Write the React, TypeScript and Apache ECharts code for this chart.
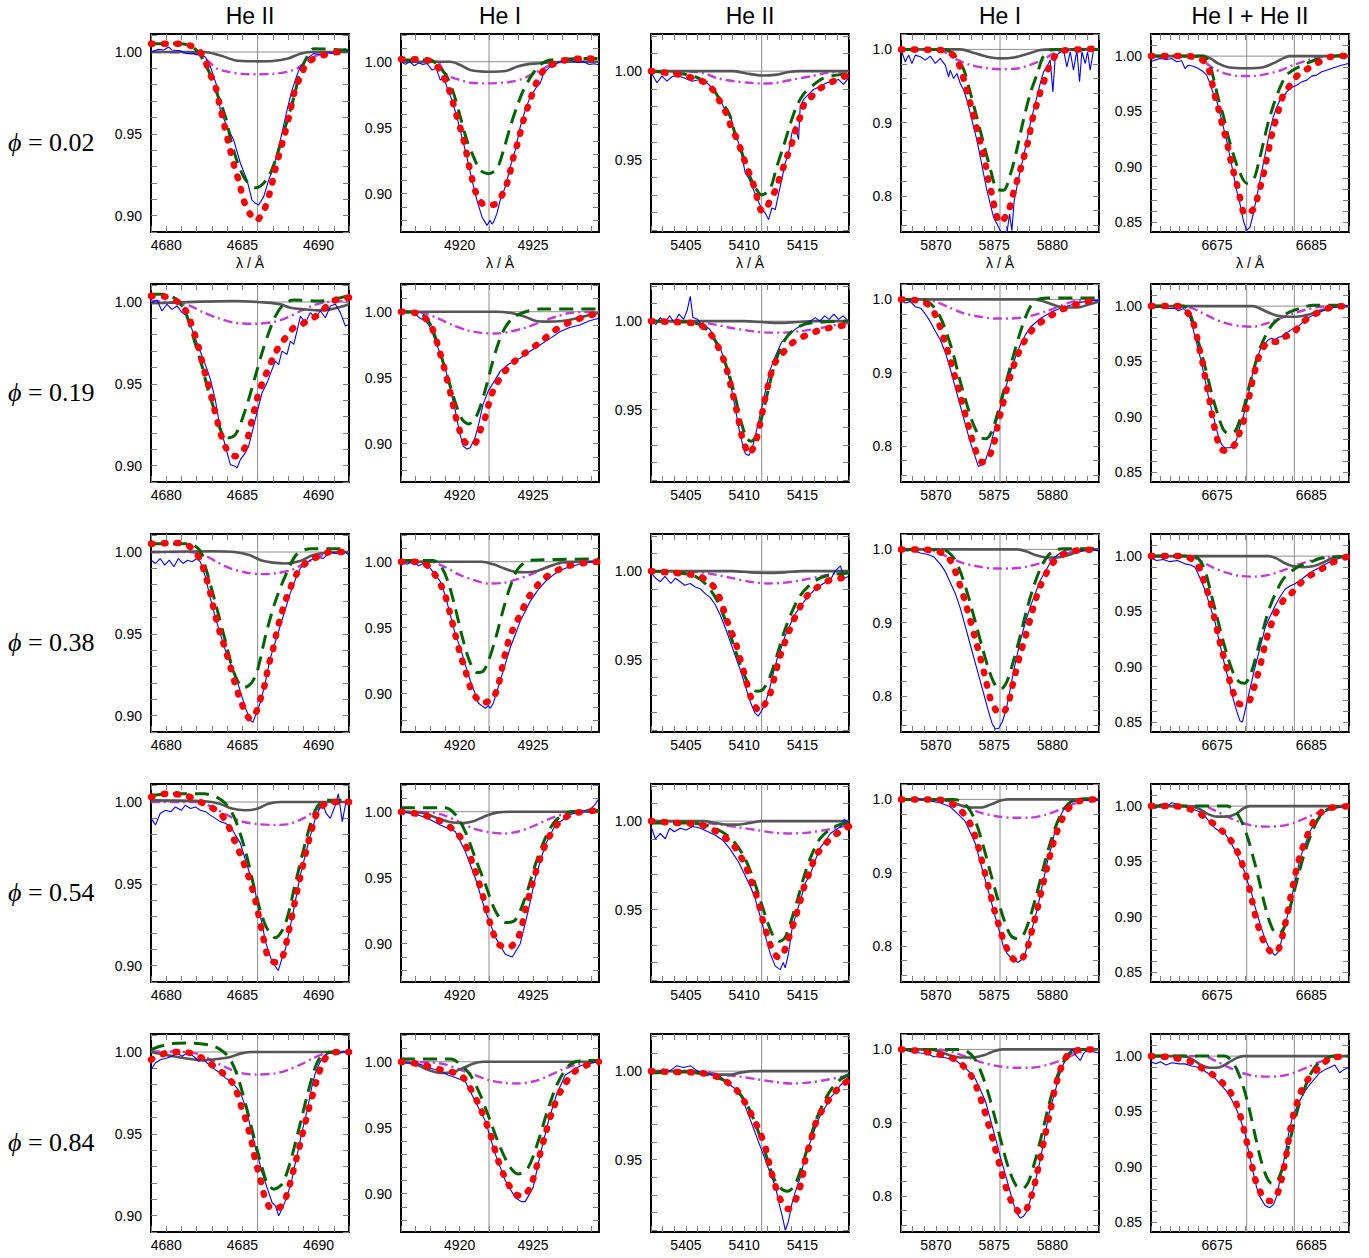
import React, { useEffect, useRef } from 'react';
import * as echarts from 'echarts';

type P = [number, number][];

// ---------- axes ----------
const X_RANGES = [[4679, 4692], [4916, 4929.5], [5402, 5419], [5867, 5884], [6668, 6689]];
const Y_RANGES = [[0.89, 1.011], [0.871, 1.021], [0.909, 1.021], [0.751, 1.021], [0.841, 1.02]];
const X_TICKS = [
  [4679, 4680, 4681, 4682, 4683, 4684, 4685, 4686, 4687, 4688, 4689, 4690, 4691, 4692],
  [4916, 4917, 4918, 4919, 4920, 4921, 4922, 4923, 4924, 4925, 4926, 4927, 4928, 4929],
  [5402, 5403, 5404, 5405, 5406, 5407, 5408, 5409, 5410, 5411, 5412, 5413, 5414, 5415, 5416, 5417, 5418, 5419],
  [5867, 5868, 5869, 5870, 5871, 5872, 5873, 5874, 5875, 5876, 5877, 5878, 5879, 5880, 5881, 5882, 5883, 5884],
  [6668, 6669, 6670, 6671, 6672, 6673, 6674, 6675, 6676, 6677, 6678, 6679, 6680, 6681, 6682, 6683, 6684, 6685, 6686, 6687, 6688, 6689],
];
const X_LABELS = [[4680, 4685, 4690], [4920, 4925], [5405, 5410, 5415], [5870, 5875, 5880], [6675, 6685]];
const Y_TICKS = [
  [0.89, 0.9, 0.91, 0.92, 0.93, 0.94, 0.95, 0.96, 0.97, 0.98, 0.99, 1.0, 1.01],
  [0.88, 0.89, 0.9, 0.91, 0.92, 0.93, 0.94, 0.95, 0.96, 0.97, 0.98, 0.99, 1.0, 1.01, 1.02],
  [0.91, 0.92, 0.93, 0.94, 0.95, 0.96, 0.97, 0.98, 0.99, 1.0, 1.01, 1.02],
  [0.76, 0.78, 0.8, 0.82, 0.84, 0.86, 0.88, 0.9, 0.92, 0.94, 0.96, 0.98, 1.0, 1.02],
  [0.85, 0.86, 0.87, 0.88, 0.89, 0.9, 0.91, 0.92, 0.93, 0.94, 0.95, 0.96, 0.97, 0.98, 0.99, 1.0, 1.01],
];
const Y_LABELS = [[0.9, 0.95, 1.0], [0.9, 0.95, 1.0], [0.95, 1.0], [0.8, 0.9, 1.0], [0.85, 0.9, 0.95, 1.0]];
const Y_DIGITS = [2, 2, 2, 1, 2];
const TITLES = ['He II', 'He I', 'He II', 'He I', 'He I + He II'];
const PHASES = ['0.02', '0.19', '0.38', '0.54', '0.84'];
const REST = [[4686.0], [4922.0], [5411.5], [5875.5], [6678.15, 6683.2]];

// ---------- phase 0.02 ----------
const obs_0_0: P = [[4679,1.0],[4679.5,1.0016],[4679.83,1.0012],[4680.16,1.003],[4680.38,1.0012],[4680.93,1.0008],[4681.36,0.999],[4681.8,0.999],[4682.24,0.998],[4682.57,0.997],[4682.9,0.991],[4683.33,0.979],[4683.55,0.9645],[4683.99,0.9544],[4684.43,0.9462],[4684.87,0.932],[4685.3,0.9218],[4685.63,0.9095],[4685.85,0.9075],[4686.07,0.9065],[4686.4,0.9116],[4686.73,0.9218],[4687.06,0.930],[4687.49,0.946],[4687.93,0.9645],[4688.26,0.9768],[4688.59,0.986],[4688.8,0.991],[4689.24,0.996],[4689.68,0.999],[4690.12,0.9985],[4690.56,0.9995],[4691.0,0.999],[4691.43,1.001],[4691.76,1.002],[4692,1.0]];
const fit_0_0: P = [[4679,1.005],[4680,1.005],[4681,1.005],[4682,1.002],[4682.5,0.996],[4682.8,0.988],[4683.2,0.98],[4683.5,0.968],[4683.8,0.956],[4684.2,0.94],[4684.5,0.929],[4684.8,0.92],[4685.1,0.909],[4685.5,0.901],[4685.9,0.897],[4686.4,0.903],[4686.8,0.914],[4687.1,0.926],[4687.4,0.937],[4687.7,0.947],[4688.1,0.962],[4688.4,0.975],[4688.8,0.985],[4689.1,0.991],[4689.5,0.995],[4690.3,0.998],[4691.4,1.0],[4692,1.0]];
const pri_0_0: P = [[4679,1.005],[4681,1.005],[4682,1.001],[4682.8,0.988],[4683.4,0.973],[4683.9,0.96],[4684.3,0.944],[4684.7,0.932],[4685.2,0.922],[4685.9,0.917],[4686.6,0.922],[4687.1,0.932],[4687.5,0.944],[4688,0.96],[4688.4,0.973],[4688.8,0.988],[4689.3,0.998],[4689.7,1.002],[4692,1.001]];
const sec_0_0: P = [[4679,1.0],[4681.5,0.9995],[4682.2,0.998],[4682.8,0.994],[4683.3,0.99],[4684,0.988],[4685,0.9866],[4686,0.9864],[4687,0.9866],[4688,0.988],[4688.6,0.99],[4689.2,0.994],[4689.7,0.997],[4690.3,0.999],[4692,1.0]];
const ter_0_0: P = [[4679,1.0],[4682.5,1.0],[4683.5,0.998],[4684.5,0.995],[4685,0.9945],[4686,0.9943],[4687,0.9945],[4688,0.996],[4688.8,0.999],[4689.5,1.0],[4692,1.0]];

const obs_0_1: P = [[4916,1.0],[4916.3,0.998],[4916.6,1.0],[4916.9,0.997],[4917.2,0.999],[4917.5,0.998],[4917.77,0.9987],[4918.11,0.9937],[4918.4,0.995],[4918.68,0.9861],[4918.9,0.988],[4919.13,0.981],[4919.47,0.9709],[4919.81,0.9583],[4920.15,0.9431],[4920.49,0.9279],[4920.84,0.9102],[4921.18,0.895],[4921.52,0.8824],[4921.86,0.876],[4922.08,0.8798],[4922.2,0.877],[4922.31,0.8786],[4922.54,0.8849],[4922.76,0.895],[4923.11,0.9051],[4923.45,0.9203],[4923.79,0.933],[4924.13,0.9507],[4924.47,0.9633],[4924.81,0.9734],[4925.26,0.981],[4925.5,0.984],[4925.72,0.9911],[4926.17,0.9962],[4926.85,1.0],[4927.53,1.0013],[4928,0.9995],[4928.44,1.0],[4928.8,0.998],[4929.2,0.9985],[4929.5,0.9975]];
const fit_0_1: P = [[4916,1.0018],[4917,1.0018],[4918,1.0005],[4918.57,0.9949],[4919.02,0.9861],[4919.36,0.976],[4919.81,0.9583],[4920.15,0.9456],[4920.38,0.9355],[4920.61,0.9228],[4920.84,0.9114],[4921.18,0.8988],[4921.74,0.8912],[4922.49,0.8925],[4922.99,0.9013],[4923.33,0.9114],[4923.67,0.9279],[4924.01,0.9405],[4924.35,0.9557],[4924.81,0.9709],[4925.26,0.9848],[4925.83,0.9949],[4926.51,0.9987],[4927.3,1.0013],[4928.67,1.0025],[4929.5,1.0018]];
const pri_0_1: P = [[4916,1.0013],[4918,1.0013],[4918.5,0.9975],[4919.13,0.9886],[4919.59,0.976],[4920.04,0.9583],[4920.49,0.9405],[4920.95,0.9279],[4921.4,0.9178],[4921.97,0.9152],[4922.54,0.919],[4922.99,0.933],[4923.45,0.9507],[4923.9,0.9658],[4924.35,0.9785],[4924.92,0.9899],[4925.49,0.9975],[4926.17,1.0013],[4929.5,1.0025]];
const sec_0_1: P = [[4916,1.0],[4918.5,0.9995],[4918.91,0.9924],[4919.36,0.9886],[4920.04,0.9861],[4920.72,0.9841],[4922,0.9836],[4923.5,0.9848],[4924.35,0.9873],[4925.03,0.9911],[4925.72,0.9949],[4926.4,0.9987],[4927,1.0],[4929.5,1.0]];
const ter_0_1: P = [[4916,1.0],[4919.36,1.0],[4920.04,0.9975],[4920.72,0.9937],[4921.97,0.9924],[4923.22,0.9932],[4923.9,0.9962],[4924.58,0.998],[4925.26,0.9987],[4926.17,0.9995],[4927.3,1.0],[4929.5,1.0]];

const obs_0_2: P = [[5402,0.9994],[5402.51,0.9934],[5402.94,0.9972],[5403.37,0.9943],[5403.8,0.9968],[5404.23,0.9975],[5404.8,0.9962],[5405.52,0.9943],[5406.23,0.9953],[5406.8,0.9934],[5407.38,0.9896],[5407.95,0.984],[5408.38,0.9774],[5408.81,0.9755],[5409.09,0.967],[5409.52,0.9594],[5409.81,0.9519],[5410.09,0.9424],[5410.38,0.9396],[5410.67,0.9349],[5411.09,0.9283],[5411.52,0.9217],[5411.81,0.9198],[5412.1,0.916],[5412.38,0.9226],[5412.67,0.9217],[5413.1,0.9349],[5413.53,0.9481],[5413.81,0.9538],[5414.1,0.9651],[5414.38,0.9689],[5414.67,0.9613],[5414.81,0.9802],[5415.1,0.984],[5415.53,0.9868],[5415.96,0.9896],[5416.53,0.9915],[5417.1,0.9934],[5417.67,0.9943],[5418.1,0.9953],[5418.53,0.9925],[5418.96,0.9962]];
const fit_0_2: P = [[5402,1.0],[5403.7,0.9987],[5404.8,0.9975],[5405.7,0.9957],[5406.7,0.9934],[5407.4,0.9887],[5407.9,0.983],[5408.5,0.9755],[5408.9,0.968],[5409.4,0.9613],[5409.8,0.9538],[5410.2,0.9462],[5410.7,0.9377],[5411.0,0.9311],[5411.4,0.9217],[5411.7,0.9207],[5412.2,0.9264],[5412.7,0.933],[5413.1,0.9406],[5413.5,0.9481],[5413.8,0.9538],[5414.2,0.9613],[5414.5,0.9689],[5414.9,0.9755],[5415.2,0.9821],[5415.7,0.9849],[5416.2,0.9887],[5417.1,0.9925],[5418.0,0.9953],[5419,0.998]];
const pri_0_2: P = [[5402,1.0],[5403.5,0.9991],[5404.5,0.9987],[5405.4,0.9975],[5406.2,0.9957],[5407.1,0.992],[5407.9,0.984],[5408.7,0.976],[5409.2,0.965],[5409.8,0.954],[5410.4,0.942],[5410.8,0.936],[5411.5,0.93],[5412.2,0.933],[5412.8,0.946],[5413.4,0.958],[5414.0,0.971],[5414.5,0.98],[5415.1,0.987],[5416.0,0.9925],[5416.8,0.996],[5417.7,0.9975],[5419,0.9987]];
const sec_0_2: P = [[5402,1.0],[5406.2,0.9994],[5407.7,0.996],[5409.1,0.9943],[5410.5,0.9934],[5411.5,0.993],[5412.8,0.9934],[5414.2,0.9953],[5415.7,0.997],[5417.1,0.999],[5419,1.0]];
const ter_0_2: P = [[5402,1.0],[5409,1.0],[5410.2,0.9987],[5411.5,0.9975],[5412.8,0.998],[5413.7,0.9994],[5414.8,1.0],[5419,1.0]];

const obs_0_3: P = [[5867,1.0],[5867.37,0.9831],[5867.66,0.9922],[5867.94,0.9808],[5868.23,0.9922],[5868.66,0.99],[5869.09,0.9854],[5869.52,0.9909],[5869.95,0.9808],[5870.37,0.9877],[5870.8,0.9786],[5871.09,0.9626],[5871.23,0.9717],[5871.52,0.9603],[5871.8,0.9672],[5872.09,0.9535],[5872.38,0.9444],[5872.66,0.9307],[5872.95,0.9124],[5873.23,0.8942],[5873.52,0.876],[5873.81,0.8532],[5874.09,0.8304],[5874.38,0.8076],[5874.66,0.7893],[5874.95,0.7711],[5875.24,0.762],[5875.52,0.7529],[5875.81,0.749],[5876.09,0.749],[5876.32,0.7756],[5876.52,0.7529],[5876.72,0.7939],[5876.95,0.8121],[5877.24,0.8349],[5877.52,0.8532],[5877.81,0.876],[5878.1,0.8988],[5878.38,0.917],[5878.67,0.9352],[5878.95,0.9535],[5879.24,0.9694],[5879.53,0.9763],[5879.81,0.9854],[5880.04,0.9421],[5880.24,0.99],[5880.53,0.9945],[5880.96,0.9991],[5881.24,0.9763],[5881.53,0.9968],[5881.81,0.9717],[5882.1,0.9991],[5882.33,0.9558],[5882.53,0.9968],[5882.82,0.9808],[5883.02,0.9968],[5883.24,0.9717],[5883.53,0.9991],[5883.96,1.0]];
const fit_0_3: P = [[5867,1.0],[5870.4,0.9991],[5871.2,0.9954],[5871.8,0.9863],[5872.2,0.969],[5872.5,0.953],[5872.8,0.9353],[5873.1,0.917],[5873.4,0.899],[5873.7,0.88],[5874.0,0.862],[5874.3,0.84],[5874.5,0.822],[5874.8,0.803],[5875.1,0.78],[5875.5,0.764],[5876.2,0.778],[5876.5,0.796],[5876.8,0.812],[5877.1,0.828],[5877.4,0.844],[5877.7,0.862],[5878.0,0.88],[5878.2,0.899],[5878.5,0.917],[5878.8,0.933],[5879.1,0.949],[5879.4,0.962],[5879.7,0.976],[5880.0,0.985],[5880.4,0.9945],[5881.2,0.9991],[5882.6,1.0],[5884,1.0014]];
const pri_0_3: P = [[5867,1.0],[5870.7,1.0],[5871.2,0.997],[5871.8,0.988],[5872.4,0.972],[5872.9,0.944],[5873.5,0.908],[5874.1,0.871],[5874.7,0.835],[5875.2,0.81],[5875.8,0.808],[5876.4,0.83],[5877.0,0.867],[5877.5,0.903],[5878.1,0.94],[5878.7,0.967],[5879.2,0.99],[5879.8,0.999],[5880.5,1.0],[5884,1.0]];
const sec_0_3: P = [[5867,1.0],[5870,1.0],[5870.7,0.997],[5871.8,0.986],[5872.9,0.979],[5874.1,0.975],[5875.5,0.973],[5877.0,0.974],[5878.1,0.979],[5879.2,0.986],[5880.1,0.9945],[5881.2,0.9991],[5882,1.0],[5884,1.0]];
const ter_0_3: P = [[5867,1.0],[5872.1,1.0],[5873.2,0.9955],[5874.4,0.99],[5875.5,0.9877],[5876.7,0.989],[5877.8,0.9936],[5879.0,0.9991],[5880,1.0],[5884,1.0]];

const obs_0_4: P = [[6668,0.9949],[6668.42,0.9964],[6668.95,0.9979],[6669.66,0.997],[6670.19,0.9979],[6670.72,0.9949],[6671.25,0.9958],[6671.61,0.9888],[6671.96,0.9918],[6672.49,0.9909],[6673.02,0.9888],[6673.55,0.9858],[6673.9,0.9828],[6674.26,0.9752],[6674.61,0.9662],[6674.96,0.9601],[6675.32,0.9481],[6675.67,0.936],[6676.02,0.9239],[6676.38,0.9088],[6676.73,0.8937],[6677.08,0.8786],[6677.44,0.8665],[6677.79,0.8514],[6678.15,0.8424],[6678.5,0.8454],[6678.85,0.8575],[6679.21,0.8726],[6679.56,0.8877],[6679.91,0.9028],[6680.27,0.9179],[6680.62,0.933],[6680.97,0.945],[6681.33,0.9541],[6681.68,0.9601],[6682.03,0.9632],[6682.39,0.9677],[6682.92,0.9716],[6683.45,0.9737],[6683.98,0.9767],[6684.51,0.9783],[6685.04,0.9819],[6685.57,0.9828],[6686.1,0.9858],[6686.63,0.9873],[6687.16,0.9888],[6687.69,0.9903],[6688.22,0.9918],[6688.93,0.9934]];
const fit_0_4: P = [[6668,1.0],[6671.8,1.0],[6672.5,0.9994],[6673.2,0.998],[6673.8,0.9934],[6674.2,0.986],[6674.6,0.971],[6674.9,0.96],[6675.3,0.948],[6675.6,0.936],[6676.0,0.924],[6676.3,0.912],[6676.6,0.9],[6677.0,0.888],[6677.3,0.877],[6678.0,0.857],[6678.9,0.862],[6679.4,0.876],[6679.8,0.888],[6680.1,0.9],[6680.4,0.912],[6680.7,0.924],[6681.0,0.936],[6681.4,0.946],[6681.7,0.957],[6682.1,0.966],[6682.6,0.972],[6683.1,0.978],[6683.6,0.983],[6684.1,0.986],[6684.9,0.99],[6685.9,0.995],[6686.8,0.9988],[6687.9,1.0003],[6689,1.0]];
const pri_0_4: P = [[6668,1.0],[6673.5,1.0],[6674.1,0.995],[6674.6,0.981],[6675.1,0.963],[6675.7,0.945],[6676.2,0.927],[6676.7,0.912],[6677.4,0.895],[6678.15,0.885],[6678.9,0.889],[6679.4,0.903],[6679.9,0.921],[6680.4,0.939],[6681.0,0.956],[6681.7,0.972],[6682.4,0.983],[6683.4,0.989],[6684.5,0.9934],[6685.6,0.997],[6687.3,1.0],[6689,1.0009]];
const sec_0_4: P = [[6668,1.0],[6672.5,1.0],[6673.5,0.996],[6674.6,0.989],[6676.0,0.984],[6677.4,0.982],[6678.9,0.982],[6680.3,0.984],[6681.7,0.987],[6683.1,0.992],[6684.5,0.996],[6685.9,0.999],[6687.3,1.0],[6689,1.0]];
const ter_0_4: P = [[6668,1.0],[6673.5,1.0],[6674.3,0.998],[6675.1,0.9934],[6676.2,0.99],[6678.15,0.989],[6679.9,0.99],[6681.0,0.9937],[6682.0,0.998],[6682.7,1.0],[6689,1.0]];

// ---------- phase 0.19 ----------
const obs_1_0: P = [[4679,0.9996],[4679.39,1.0012],[4679.72,0.9945],[4680.05,0.9986],[4680.38,0.9955],[4680.71,0.9976],[4681.04,0.9935],[4681.36,0.9914],[4681.69,0.9833],[4682.02,0.9751],[4682.35,0.967],[4682.68,0.9588],[4682.9,0.9527],[4683.22,0.9404],[4683.44,0.9282],[4683.66,0.92],[4683.88,0.9119],[4684.21,0.9006],[4684.54,0.8996],[4684.65,0.8986],[4684.87,0.9037],[4685.19,0.9078],[4685.41,0.9119],[4685.63,0.92],[4685.85,0.9282],[4686.07,0.9364],[4686.29,0.9445],[4686.62,0.9506],[4686.95,0.9588],[4687.17,0.9639],[4687.38,0.9618],[4687.6,0.97],[4687.93,0.968],[4688.15,0.9761],[4688.37,0.9741],[4688.59,0.9823],[4688.81,0.9914],[4689.14,0.9874],[4689.46,0.9935],[4689.79,0.9904],[4690.12,0.9945],[4690.45,0.9904],[4690.78,0.9976],[4691.11,0.9986],[4691.43,0.9935],[4691.76,0.9853],[4692,0.9863]];
const fit_1_0: P = [[4679,1.0037],[4679.94,1.0033],[4680.82,0.9996],[4681.36,0.9935],[4681.69,0.9853],[4681.91,0.9792],[4682.13,0.972],[4682.35,0.9639],[4682.57,0.9557],[4682.79,0.9486],[4683.01,0.9404],[4683.22,0.9323],[4683.44,0.9241],[4683.66,0.917],[4683.99,0.9098],[4684.54,0.9057],[4685.09,0.9098],[4685.41,0.919],[4685.63,0.9282],[4685.85,0.9364],[4686.07,0.9445],[4686.4,0.9527],[4686.73,0.9598],[4687.06,0.967],[4687.49,0.9741],[4687.93,0.9792],[4688.37,0.9843],[4688.81,0.9857],[4689.24,0.9884],[4689.68,0.9904],[4690.12,0.9935],[4690.56,0.9976],[4691.21,1.0016],[4692,1.0027]];
const pri_1_0: P = [[4679,1.0047],[4679.83,1.0047],[4680.49,1.0027],[4681.04,0.9976],[4681.36,0.9914],[4681.69,0.9812],[4682.02,0.971],[4682.35,0.9608],[4682.68,0.9486],[4683.01,0.9384],[4683.33,0.9282],[4683.66,0.92],[4684.1,0.917],[4684.54,0.919],[4684.98,0.9282],[4685.41,0.9404],[4685.85,0.9547],[4686.29,0.969],[4686.73,0.9812],[4687.17,0.9914],[4687.71,0.9986],[4688.37,1.0012],[4689.9,1.0006],[4691.0,1.0016],[4692,1.0041]];
const sec_1_0: P = [[4679,1.0006],[4680.71,0.9996],[4681.58,0.9976],[4682.46,0.9935],[4683.33,0.9904],[4684.43,0.9874],[4685.74,0.9867],[4687.06,0.9878],[4687.93,0.9904],[4688.81,0.9945],[4689.68,0.998],[4690.56,1.0],[4692,1.0006]];
const ter_1_0: P = [[4679,0.9992],[4680.49,0.9996],[4682.24,1.0002],[4684.43,1.0006],[4686.62,0.9996],[4687.49,0.9986],[4688.15,0.9965],[4689.03,0.9955],[4689.9,0.9949],[4690.78,0.9955],[4691.43,0.9969],[4692,0.9986]];

const obs_1_1: P = [[4916,1.002],[4916.4,0.999],[4916.8,1.0],[4917.3,0.995],[4917.7,0.993],[4918.0,0.988],[4918.34,0.978],[4918.68,0.968],[4919.0,0.958],[4919.36,0.942],[4919.7,0.925],[4920.0,0.908],[4920.25,0.898],[4920.5,0.896],[4920.72,0.897],[4921.06,0.905],[4921.3,0.915],[4921.6,0.93],[4921.95,0.94],[4922.4,0.948],[4922.77,0.955],[4923.3,0.96],[4924.13,0.965],[4924.8,0.97],[4925.5,0.975],[4926.2,0.98],[4926.86,0.985],[4927.5,0.988],[4928.2,0.99],[4928.8,0.993],[4929.5,0.995]];
const fit_1_1: P = [[4916,1.0],[4917,0.999],[4917.66,0.995],[4918.1,0.988],[4918.5,0.975],[4919.0,0.955],[4919.4,0.937],[4919.7,0.922],[4920.0,0.91],[4920.3,0.902],[4920.72,0.899],[4921.1,0.901],[4921.4,0.91],[4921.8,0.922],[4922.1,0.935],[4922.5,0.945],[4923.1,0.955],[4923.7,0.962],[4924.5,0.969],[4925.5,0.977],[4926.5,0.986],[4927.5,0.992],[4928.5,0.996],[4929.5,0.999]];
const pri_1_1: P = [[4916,1.0],[4917,0.9995],[4917.66,0.996],[4918.1,0.988],[4918.5,0.975],[4919.0,0.957],[4919.4,0.942],[4919.8,0.928],[4920.2,0.918],[4920.6,0.915],[4921.0,0.918],[4921.4,0.928],[4921.8,0.943],[4922.2,0.96],[4922.6,0.975],[4923.1,0.988],[4923.7,0.996],[4924.5,1.0],[4925.5,1.002],[4929.5,1.002]];
const sec_1_1: P = [[4916,1.0],[4917.5,0.999],[4918.5,0.995],[4919.5,0.99],[4920.5,0.986],[4921.5,0.984],[4922.5,0.9835],[4923.5,0.985],[4924.5,0.988],[4925.5,0.992],[4926.5,0.996],[4927.5,0.999],[4929.5,1.0]];
const ter_1_1: P = [[4916,1.0],[4922.5,1.0],[4923.5,0.999],[4924.5,0.996],[4925.2,0.993],[4926,0.9925],[4927,0.993],[4928,0.995],[4929,0.998],[4929.5,0.999]];

const obs_1_2: P = [[5402,1.001],[5402.4,0.998],[5402.8,1.002],[5403.2,0.999],[5403.6,1.003],[5404.0,0.999],[5404.4,1.004],[5404.8,1.001],[5405.1,1.006],[5405.37,1.014],[5405.6,1.002],[5406.0,1.001],[5406.23,0.999],[5406.6,0.998],[5407.09,0.995],[5407.5,0.99],[5407.95,0.985],[5408.4,0.975],[5408.81,0.965],[5409.2,0.952],[5409.67,0.935],[5410.1,0.925],[5410.4,0.924],[5410.7,0.928],[5410.95,0.935],[5411.4,0.948],[5411.81,0.96],[5412.2,0.972],[5412.67,0.98],[5413.2,0.988],[5413.96,0.993],[5414.5,0.996],[5415.0,0.998],[5415.68,1.0],[5416.1,1.002],[5416.5,1.0],[5416.9,1.003],[5417.3,1.001],[5417.7,1.004],[5418.1,1.001],[5418.5,1.003],[5418.94,1.0]];
const fit_1_2: P = [[5402,1.0],[5404,0.9995],[5405.5,0.999],[5406.23,0.998],[5407.09,0.993],[5407.8,0.985],[5408.4,0.975],[5408.9,0.962],[5409.4,0.948],[5409.8,0.935],[5410.2,0.927],[5410.4,0.925],[5410.9,0.93],[5411.3,0.94],[5411.7,0.953],[5412.1,0.965],[5412.6,0.976],[5413.2,0.981],[5414.0,0.987],[5415.0,0.991],[5416.1,0.994],[5417.2,0.996],[5418.0,0.997],[5419,0.998]];
const pri_1_2: P = [[5402,1.0],[5405,0.9995],[5406.2,0.998],[5407.1,0.993],[5407.9,0.984],[5408.6,0.972],[5409.2,0.958],[5409.7,0.944],[5410.2,0.934],[5410.6,0.932],[5411.1,0.936],[5411.6,0.948],[5412.1,0.962],[5412.6,0.975],[5413.2,0.986],[5413.9,0.993],[5414.7,0.997],[5415.7,0.999],[5419,1.0]];
const sec_1_2: P = [[5402,1.0],[5406,0.9995],[5407.5,0.998],[5409,0.996],[5410.5,0.9945],[5412,0.9935],[5413.5,0.9935],[5415,0.9945],[5416.5,0.996],[5418,0.998],[5419,0.999]];
const ter_1_2: P = [[5402,1.0],[5410,1.0],[5411.5,0.9995],[5413,0.999],[5414.5,0.9995],[5416,1.0],[5419,1.0]];

const obs_1_3: P = [[5867,1.0],[5867.37,0.995],[5867.8,0.997],[5868.23,0.99],[5868.7,0.988],[5869.09,0.98],[5869.5,0.97],[5869.9,0.958],[5870.37,0.945],[5870.8,0.928],[5871.23,0.905],[5871.66,0.88],[5872.09,0.855],[5872.52,0.83],[5872.95,0.805],[5873.38,0.785],[5873.64,0.772],[5873.98,0.775],[5874.24,0.78],[5874.67,0.8],[5875.1,0.828],[5875.52,0.852],[5875.95,0.878],[5876.38,0.9],[5876.8,0.92],[5877.24,0.938],[5877.7,0.952],[5878.1,0.962],[5878.96,0.974],[5879.82,0.982],[5880.67,0.988],[5881.53,0.992],[5882.39,0.996],[5883.2,0.998],[5884,0.999]];
const fit_1_3: P = [[5867,1.0],[5868.2,0.999],[5869.0,0.996],[5869.52,0.99],[5870.0,0.977],[5870.37,0.962],[5870.8,0.94],[5871.23,0.918],[5871.66,0.893],[5872.09,0.868],[5872.52,0.843],[5872.78,0.828],[5873.38,0.795],[5873.98,0.778],[5874.6,0.787],[5875.0,0.805],[5875.27,0.826],[5875.6,0.848],[5875.95,0.87],[5876.38,0.895],[5876.8,0.915],[5877.41,0.938],[5878.1,0.955],[5878.53,0.963],[5879.3,0.972],[5880.2,0.981],[5881.1,0.988],[5882.0,0.993],[5883,0.997],[5884,0.999]];
const pri_1_3: P = [[5867,1.0],[5868.5,1.0],[5869.3,0.997],[5869.8,0.99],[5870.4,0.975],[5870.9,0.955],[5871.5,0.925],[5872.0,0.893],[5872.6,0.86],[5873.2,0.83],[5873.8,0.812],[5874.3,0.81],[5874.8,0.82],[5875.3,0.845],[5875.9,0.88],[5876.5,0.915],[5877.1,0.948],[5877.6,0.972],[5878.1,0.99],[5878.6,0.999],[5879.5,1.002],[5884,1.002]];
const sec_1_3: P = [[5867,1.0],[5869,1.0],[5870,0.997],[5871,0.99],[5872.2,0.982],[5873.5,0.977],[5875,0.974],[5876.5,0.974],[5878,0.977],[5879.5,0.984],[5880.8,0.992],[5882,0.998],[5884,1.0]];
const ter_1_3: P = [[5867,1.0],[5878.5,1.0],[5879.3,0.997],[5880.2,0.992],[5881.2,0.989],[5882.2,0.989],[5883.1,0.993],[5884,0.997]];

const obs_1_4: P = [[6668,0.9979],[6668.95,0.9994],[6669.66,0.9979],[6670.55,0.9979],[6670.9,0.9958],[6671.43,0.9979],[6671.96,0.9934],[6672.31,0.9844],[6672.67,0.9724],[6673.02,0.9604],[6673.37,0.9484],[6673.73,0.9334],[6674.08,0.9184],[6674.43,0.9064],[6674.79,0.8944],[6675.14,0.8824],[6675.49,0.8749],[6675.85,0.8719],[6676.38,0.8719],[6676.73,0.8734],[6677.08,0.8794],[6677.44,0.8914],[6677.79,0.9004],[6678.15,0.9124],[6678.5,0.9274],[6678.85,0.9424],[6679.21,0.9514],[6679.56,0.9604],[6680.09,0.9664],[6680.44,0.9694],[6680.8,0.9709],[6681.15,0.9694],[6681.5,0.9718],[6681.86,0.9724],[6682.21,0.9754],[6682.56,0.9769],[6683.09,0.9799],[6683.62,0.9814],[6684.15,0.9859],[6684.86,0.9904],[6685.57,0.9934],[6686.28,0.9958],[6686.98,0.9979],[6687.69,0.9994],[6688.4,1.0009],[6688.93,1.0]];
const fit_1_4: P = [[6668,1.0],[6669.48,1.0],[6670.9,1.0],[6671.78,0.9949],[6672.21,0.9904],[6672.56,0.9829],[6672.91,0.9709],[6673.2,0.9589],[6673.48,0.9484],[6673.76,0.9349],[6674.01,0.9244],[6674.26,0.9124],[6674.5,0.9004],[6674.79,0.8884],[6675.14,0.8764],[6675.49,0.8704],[6676.02,0.8689],[6677.01,0.8764],[6677.44,0.8869],[6677.86,0.8974],[6678.15,0.9094],[6678.5,0.9214],[6678.85,0.9364],[6679.21,0.9469],[6679.56,0.9574],[6680.27,0.9664],[6680.97,0.9679],[6681.68,0.9679],[6682.21,0.9724],[6682.92,0.9739],[6683.8,0.9829],[6684.86,0.9904],[6685.92,0.9949],[6687.34,0.9994],[6689,1.0]];
const pri_1_4: P = [[6668,1.0],[6671.43,1.0],[6671.96,0.9964],[6672.49,0.9844],[6673.02,0.9679],[6673.55,0.9514],[6674.08,0.9334],[6674.61,0.9154],[6675.14,0.9004],[6675.67,0.8884],[6676.2,0.8848],[6676.91,0.8869],[6677.44,0.8974],[6677.97,0.9124],[6678.5,0.9304],[6679.03,0.9469],[6679.56,0.9619],[6680.27,0.9754],[6680.97,0.9844],[6681.86,0.9904],[6682.74,0.9949],[6683.8,0.9979],[6685.22,1.0009],[6689,1.0009]];
const sec_1_4: P = [[6668,1.0],[6671.78,0.9994],[6673.2,0.9949],[6674.61,0.9889],[6676.02,0.9844],[6677.44,0.982],[6678.85,0.9814],[6680.27,0.9844],[6681.68,0.9889],[6683.09,0.9934],[6684.51,0.997],[6685.92,0.9994],[6689,1.0]];
const ter_1_4: P = [[6668,1.0],[6678.85,1.0],[6679.56,0.9979],[6680.27,0.9949],[6680.97,0.9925],[6681.68,0.991],[6682.39,0.9904],[6683.45,0.9904],[6684.51,0.9919],[6685.57,0.9949],[6686.63,0.9979],[6687.34,0.9994],[6689,1.0]];

// ---------- phase 0.38 ----------
const obs_2_0: P = [[4679,0.995],[4679.3,0.993],[4679.6,0.996],[4679.9,0.992],[4680.2,0.995],[4680.5,0.991],[4680.8,0.996],[4681.1,0.993],[4681.4,0.995],[4681.7,0.994],[4682.0,0.996],[4682.24,0.994],[4682.57,0.985],[4682.89,0.972],[4683.22,0.96],[4683.55,0.95],[4683.88,0.94],[4684.21,0.932],[4684.53,0.925],[4684.86,0.915],[4685.19,0.905],[4685.52,0.897],[4685.7,0.896],[4685.85,0.9],[4686.18,0.908],[4686.5,0.92],[4686.83,0.935],[4687.16,0.945],[4687.49,0.955],[4687.82,0.965],[4688.15,0.975],[4688.47,0.983],[4688.8,0.99],[4689.1,0.993],[4689.46,0.995],[4689.9,0.997],[4690.3,0.996],[4690.77,1.0],[4691.2,0.999],[4691.6,1.001],[4692,0.998]];
const fit_2_0: P = [[4679,1.005],[4680.5,1.0055],[4681.25,1.005],[4681.9,1.0],[4682.24,0.995],[4682.6,0.985],[4682.89,0.975],[4683.2,0.962],[4683.55,0.95],[4683.9,0.94],[4684.21,0.93],[4684.6,0.917],[4684.86,0.91],[4685.2,0.902],[4685.52,0.898],[4685.85,0.901],[4686.18,0.91],[4686.5,0.92],[4686.7,0.93],[4687.0,0.94],[4687.23,0.95],[4687.5,0.96],[4687.82,0.97],[4688.15,0.978],[4688.47,0.985],[4688.9,0.991],[4689.46,0.995],[4690.2,0.998],[4690.77,1.0],[4692,1.0]];
const pri_2_0: P = [[4679,1.005],[4681.5,1.005],[4682.2,1.001],[4682.6,0.99],[4683.2,0.97],[4683.9,0.945],[4684.5,0.925],[4685.1,0.917],[4685.6,0.92],[4686.0,0.928],[4686.5,0.948],[4687.1,0.968],[4687.8,0.985],[4688.6,0.999],[4689.5,1.002],[4692,1.002]];
const sec_2_0: P = [[4679,1.0],[4681.5,1.0],[4682.5,0.998],[4683.3,0.994],[4684.2,0.99],[4685.2,0.9875],[4686.2,0.9865],[4687.2,0.987],[4688.2,0.989],[4689.1,0.993],[4690,0.997],[4690.8,0.9995],[4692,1.0]];
const ter_2_0: P = [[4679,1.0],[4683,1.0005],[4684.5,1.0],[4685.5,0.998],[4686.2,0.995],[4687,0.9935],[4687.8,0.993],[4688.8,0.9945],[4689.6,0.998],[4690.5,0.9995],[4692,1.0]];

const obs_2_1: P = [[4916,1.0],[4916.4,0.998],[4916.8,1.0],[4917.2,0.997],[4917.6,0.999],[4918.0,0.995],[4918.34,0.99],[4918.68,0.985],[4919.0,0.975],[4919.36,0.96],[4919.7,0.945],[4920.04,0.935],[4920.38,0.922],[4920.72,0.91],[4921.06,0.9],[4921.27,0.893],[4921.5,0.891],[4921.75,0.889],[4921.95,0.891],[4922.09,0.889],[4922.3,0.893],[4922.77,0.91],[4923.1,0.922],[4923.45,0.935],[4923.8,0.945],[4924.13,0.955],[4924.5,0.963],[4924.81,0.97],[4925.3,0.978],[4925.84,0.985],[4926.5,0.991],[4927.2,0.995],[4927.8,0.997],[4928.4,0.999],[4929,1.0],[4929.5,1.002]];
const fit_2_1: P = [[4916,1.0],[4917.3,1.0],[4918.0,0.995],[4918.68,0.983],[4919.0,0.975],[4919.36,0.96],[4919.7,0.945],[4920.04,0.93],[4920.38,0.918],[4920.72,0.905],[4921.06,0.898],[4921.54,0.893],[4922.22,0.896],[4922.6,0.905],[4922.9,0.92],[4923.2,0.935],[4923.6,0.948],[4924.13,0.96],[4924.81,0.975],[4925.84,0.988],[4927.2,0.996],[4928.5,0.999],[4929.5,1.0]];
const pri_2_1: P = [[4916,1.001],[4918.2,1.001],[4918.7,0.997],[4919.2,0.985],[4919.7,0.965],[4920.2,0.942],[4920.7,0.924],[4921.2,0.916],[4921.6,0.917],[4922.0,0.926],[4922.5,0.944],[4923.0,0.965],[4923.5,0.983],[4924.0,0.995],[4924.8,1.001],[4929.5,1.002]];
const sec_2_1: P = [[4916,1.0],[4918,1.0],[4919,0.996],[4920,0.99],[4921,0.986],[4922,0.9835],[4923,0.984],[4924,0.987],[4925,0.991],[4926,0.996],[4927,0.999],[4929.5,1.0]];
const ter_2_1: P = [[4916,1.0],[4921.5,1.0],[4922.3,0.998],[4923,0.995],[4923.7,0.9925],[4924.5,0.992],[4925.3,0.993],[4926,0.996],[4926.8,0.999],[4927.5,1.0],[4929.5,1.0]];

const obs_2_2: P = [[5402,0.999],[5402.4,0.996],[5402.8,0.994],[5403.2,0.997],[5403.7,0.993],[5404.1,0.996],[5404.51,0.994],[5404.9,0.992],[5405.37,0.993],[5405.8,0.991],[5406.23,0.99],[5406.7,0.987],[5407.09,0.985],[5407.52,0.981],[5407.95,0.975],[5408.38,0.968],[5408.81,0.96],[5409.24,0.952],[5409.67,0.944],[5410.1,0.935],[5410.53,0.926],[5410.9,0.92],[5411.21,0.918],[5411.5,0.921],[5411.81,0.925],[5412.24,0.935],[5412.41,0.94],[5412.9,0.952],[5413.1,0.955],[5413.5,0.963],[5413.96,0.97],[5414.4,0.976],[5414.82,0.98],[5415.4,0.985],[5416.11,0.99],[5416.8,0.993],[5417.4,0.995],[5417.8,1.0],[5418.26,1.003],[5418.6,0.996],[5418.94,0.997]];
const fit_2_2: P = [[5402,1.0],[5404,0.999],[5405.5,0.998],[5406.23,0.997],[5407.09,0.993],[5407.52,0.99],[5408.0,0.983],[5408.38,0.975],[5408.81,0.967],[5409.24,0.96],[5409.67,0.95],[5410.1,0.94],[5410.5,0.93],[5410.9,0.924],[5411.3,0.921],[5411.8,0.925],[5412.2,0.93],[5412.6,0.94],[5413.0,0.95],[5413.4,0.958],[5413.79,0.965],[5414.3,0.973],[5414.82,0.98],[5415.4,0.986],[5416.11,0.99],[5416.8,0.993],[5417.4,0.995],[5418.3,0.996],[5419,0.997]];
const pri_2_2: P = [[5402,1.0],[5404.5,0.999],[5405.8,0.997],[5406.8,0.992],[5407.7,0.983],[5408.5,0.97],[5409.2,0.956],[5409.9,0.943],[5410.5,0.935],[5411.1,0.932],[5411.6,0.933],[5412.2,0.94],[5412.8,0.952],[5413.4,0.965],[5414.1,0.977],[5414.8,0.986],[5415.6,0.992],[5416.5,0.996],[5417.5,0.998],[5419,0.999]];
const sec_2_2: P = [[5402,1.0],[5406,0.9995],[5407.5,0.998],[5409,0.996],[5410.5,0.994],[5412,0.993],[5413.5,0.9935],[5415,0.995],[5416.5,0.997],[5418,0.999],[5419,0.9995]];
const ter_2_2: P = [[5402,1.0],[5409,1.0],[5410.5,0.9993],[5412,0.999],[5413.5,0.9993],[5415,1.0],[5419,1.0]];

const obs_2_3: P = [[5867,1.0],[5867.5,0.998],[5868.0,0.999],[5868.66,0.995],[5869.3,0.993],[5869.8,0.99],[5870.37,0.98],[5870.8,0.97],[5871.23,0.955],[5871.66,0.94],[5872.09,0.92],[5872.52,0.895],[5872.95,0.87],[5873.38,0.845],[5873.81,0.82],[5874.24,0.795],[5874.49,0.78],[5874.84,0.762],[5875.1,0.755],[5875.4,0.756],[5875.7,0.765],[5876.0,0.78],[5876.21,0.795],[5876.5,0.82],[5876.81,0.845],[5877.24,0.875],[5877.67,0.9],[5878.1,0.922],[5878.53,0.94],[5878.96,0.958],[5879.39,0.97],[5879.82,0.982],[5880.24,0.99],[5880.67,0.995],[5881.1,0.999],[5881.8,1.0],[5882.5,0.998],[5883.2,1.0],[5884,0.998]];
const fit_2_3: P = [[5867,1.0],[5868.5,1.0],[5869.5,0.999],[5870.37,0.996],[5870.8,0.993],[5871.23,0.985],[5871.66,0.97],[5872.09,0.95],[5872.52,0.928],[5872.95,0.903],[5873.38,0.878],[5873.81,0.852],[5874.24,0.825],[5874.6,0.8],[5874.92,0.787],[5875.3,0.778],[5875.7,0.777],[5876.21,0.79],[5876.5,0.81],[5876.81,0.83],[5877.2,0.855],[5877.67,0.88],[5878.1,0.905],[5878.53,0.93],[5878.96,0.95],[5879.39,0.965],[5879.82,0.977],[5880.24,0.985],[5880.9,0.993],[5881.5,0.997],[5882.39,0.999],[5884,1.0]];
const pri_2_3: P = [[5867,1.0],[5870.5,1.0],[5871.0,0.997],[5871.6,0.987],[5872.2,0.965],[5872.8,0.935],[5873.4,0.9],[5874.0,0.865],[5874.6,0.833],[5875.2,0.812],[5875.6,0.81],[5876.1,0.82],[5876.6,0.845],[5877.2,0.88],[5877.8,0.918],[5878.4,0.95],[5879.0,0.975],[5879.6,0.991],[5880.2,0.999],[5881,1.001],[5884,1.001]];
const sec_2_3: P = [[5867,1.0],[5869,1.0],[5870,0.997],[5871,0.99],[5872.2,0.982],[5873.5,0.977],[5875,0.974],[5876.5,0.974],[5878,0.977],[5879.5,0.984],[5880.8,0.992],[5882,0.998],[5884,1.0]];
const ter_2_3: P = [[5867,1.0],[5877,1.0],[5877.8,0.997],[5878.6,0.992],[5879.5,0.989],[5880.4,0.989],[5881.3,0.992],[5882.2,0.997],[5883,0.9995],[5884,1.0]];

const obs_2_4: P = [[6668,0.998],[6668.6,0.996],[6669.3,0.997],[6670.01,0.995],[6670.8,0.996],[6671.61,0.993],[6672.2,0.992],[6672.67,0.99],[6673.2,0.98],[6673.7,0.97],[6674.26,0.955],[6674.8,0.94],[6675.32,0.92],[6675.85,0.9],[6676.17,0.89],[6676.59,0.875],[6676.91,0.865],[6677.2,0.857],[6677.44,0.851],[6677.7,0.85],[6677.97,0.86],[6678.5,0.88],[6678.9,0.895],[6679.35,0.91],[6679.8,0.925],[6680.09,0.935],[6680.6,0.945],[6681.15,0.955],[6681.68,0.963],[6682.21,0.97],[6682.74,0.973],[6683.27,0.975],[6683.8,0.978],[6684.86,0.985],[6685.92,0.99],[6686.98,0.995],[6688,0.998],[6689,1.0]];
const fit_2_4: P = [[6668,1.0],[6671.5,1.0],[6672.67,0.995],[6673.2,0.988],[6673.51,0.98],[6673.9,0.97],[6674.26,0.96],[6674.7,0.945],[6675.1,0.93],[6675.5,0.915],[6675.85,0.905],[6676.2,0.892],[6676.59,0.88],[6677.0,0.871],[6677.44,0.866],[6678.0,0.866],[6678.5,0.87],[6678.9,0.88],[6679.24,0.89],[6679.7,0.905],[6680.09,0.92],[6680.5,0.932],[6680.83,0.94],[6681.2,0.948],[6681.68,0.955],[6682.21,0.962],[6682.74,0.965],[6683.27,0.97],[6683.8,0.975],[6684.4,0.98],[6685.39,0.985],[6686.4,0.99],[6686.98,0.993],[6688,0.997],[6689,1.0]];
const pri_2_4: P = [[6668,1.0],[6672.5,1.0],[6673.2,0.996],[6673.8,0.985],[6674.4,0.965],[6675.0,0.945],[6675.6,0.925],[6676.2,0.907],[6676.8,0.893],[6677.4,0.886],[6677.9,0.885],[6678.4,0.89],[6678.9,0.902],[6679.4,0.918],[6680.0,0.937],[6680.6,0.954],[6681.3,0.968],[6682.0,0.979],[6683.0,0.987],[6684.0,0.992],[6685.0,0.995],[6686.0,0.998],[6687.0,0.999],[6689,1.0]];
const sec_2_4: P = [[6668,1.0],[6672,1.0],[6673.2,0.996],[6674.5,0.99],[6676,0.985],[6677.5,0.982],[6679,0.9815],[6680.5,0.983],[6682,0.987],[6683.5,0.992],[6685,0.996],[6686.5,0.999],[6689,1.0]];
const ter_2_4: P = [[6668,1.0],[6680.5,1.0],[6681.3,0.998],[6682.1,0.994],[6683,0.991],[6684.2,0.99],[6685.3,0.991],[6686.2,0.994],[6687.2,0.998],[6688,0.9995],[6689,1.0]];

// ---------- phase 0.54 ----------
const obs_3_0: P = [[4679,0.99],[4679.3,0.986],[4679.6,0.993],[4679.94,0.995],[4680.3,0.994],[4680.6,0.997],[4681.0,0.995],[4681.25,0.998],[4681.6,0.996],[4681.91,0.997],[4682.24,0.995],[4682.6,0.994],[4682.89,0.992],[4683.22,0.99],[4683.55,0.988],[4683.88,0.987],[4684.21,0.985],[4684.53,0.98],[4684.86,0.975],[4685.19,0.965],[4685.52,0.955],[4685.85,0.945],[4686.05,0.935],[4686.31,0.925],[4686.5,0.915],[4686.96,0.902],[4687.36,0.897],[4687.62,0.905],[4687.82,0.91],[4688.28,0.93],[4688.8,0.955],[4689.33,0.975],[4689.79,0.99],[4690.25,1.0],[4690.5,0.993],[4690.77,0.99],[4691.1,0.998],[4691.3,1.005],[4691.56,0.988],[4691.8,1.0],[4692,0.998]];
const fit_3_0: P = [[4679,1.003],[4679.94,1.005],[4681.25,1.004],[4682.24,1.0],[4682.89,0.997],[4683.55,0.993],[4684.1,0.985],[4684.5,0.976],[4684.86,0.968],[4685.39,0.955],[4685.85,0.94],[4686.31,0.92],[4686.7,0.905],[4687.16,0.902],[4687.62,0.905],[4688.02,0.92],[4688.47,0.94],[4688.94,0.96],[4689.46,0.98],[4689.99,0.995],[4690.77,1.0],[4692,1.0]];
const pri_3_0: P = [[4679,1.004],[4680.5,1.005],[4682.5,1.005],[4683.3,1.003],[4683.9,0.999],[4684.5,0.99],[4685.2,0.97],[4685.85,0.945],[4686.5,0.925],[4687.16,0.917],[4687.8,0.925],[4688.47,0.95],[4689.13,0.975],[4689.79,0.995],[4690.44,1.001],[4692,1.001]];
const sec_3_0: P = [[4679,1.0],[4682,1.0],[4683,0.997],[4684,0.992],[4685,0.988],[4686,0.9865],[4687,0.986],[4688,0.9865],[4689,0.99],[4690,0.996],[4690.8,0.9995],[4692,1.0]];
const ter_3_0: P = [[4679,1.001],[4682.5,1.0005],[4683.5,0.999],[4684.3,0.996],[4685.2,0.995],[4686.0,0.996],[4686.7,0.999],[4687.5,1.0],[4692,1.0]];

const obs_3_1: P = [[4916,1.0],[4916.5,0.999],[4917.0,0.998],[4917.32,0.997],[4918.0,0.994],[4918.68,0.99],[4919.3,0.987],[4919.7,0.985],[4920.38,0.97],[4921.06,0.95],[4921.75,0.925],[4922.43,0.905],[4923.11,0.892],[4923.59,0.89],[4924.13,0.9],[4924.68,0.925],[4925.16,0.95],[4925.84,0.975],[4926.52,0.99],[4927.2,0.995],[4927.54,0.998],[4928.2,1.0],[4928.91,1.002],[4929.2,1.005],[4929.5,1.01]];
const fit_3_1: P = [[4916,1.0],[4917.32,0.998],[4918.68,0.993],[4919.7,0.985],[4920.38,0.975],[4921.06,0.955],[4921.61,0.935],[4922.09,0.915],[4922.63,0.9],[4923.31,0.897],[4924.0,0.905],[4924.47,0.925],[4924.95,0.945],[4925.5,0.965],[4926.05,0.98],[4926.86,0.993],[4927.89,0.999],[4929.5,1.001]];
const pri_3_1: P = [[4916,1.003],[4919,1.003],[4919.7,0.998],[4920.38,0.985],[4921.06,0.965],[4921.75,0.945],[4922.43,0.925],[4923.11,0.916],[4923.79,0.918],[4924.47,0.935],[4925.16,0.96],[4925.84,0.98],[4926.52,0.993],[4927.54,1.0],[4929.5,1.001]];
const sec_3_1: P = [[4916,1.0],[4918,0.9995],[4919,0.997],[4920,0.992],[4921,0.987],[4922,0.9845],[4923,0.9835],[4924,0.985],[4925,0.989],[4926,0.994],[4927,0.998],[4928,1.0],[4929.5,1.0]];
const ter_3_1: P = [[4916,1.0],[4917.5,0.999],[4918.5,0.995],[4919.4,0.992],[4920.2,0.9915],[4921.0,0.993],[4921.8,0.997],[4922.6,0.9995],[4923.5,1.0],[4929.5,1.0]];

const obs_3_2: P = [[5402,0.997],[5402.37,0.99],[5402.8,0.993],[5403.23,0.99],[5403.6,0.996],[5404.0,0.994],[5404.51,0.996],[5405.0,0.995],[5405.6,0.997],[5406.23,0.996],[5406.9,0.994],[5407.52,0.992],[5408.2,0.989],[5408.81,0.984],[5409.5,0.977],[5410.1,0.969],[5410.6,0.962],[5410.95,0.956],[5411.55,0.942],[5411.9,0.933],[5412.24,0.925],[5412.67,0.918],[5413.1,0.916],[5413.35,0.92],[5413.53,0.917],[5413.8,0.925],[5414.13,0.94],[5414.82,0.955],[5415.25,0.965],[5415.68,0.97],[5416.11,0.978],[5416.54,0.985],[5417.0,0.989],[5417.4,0.993],[5417.83,0.995],[5418.3,0.997],[5418.6,1.001],[5418.94,0.999]];
const fit_3_2: P = [[5402,1.0],[5404,0.999],[5406.23,0.998],[5407.3,0.995],[5407.95,0.993],[5408.8,0.988],[5409.24,0.985],[5409.7,0.98],[5410.1,0.975],[5410.5,0.968],[5410.95,0.96],[5411.3,0.952],[5411.55,0.945],[5411.9,0.937],[5412.24,0.93],[5412.6,0.925],[5412.93,0.923],[5413.3,0.924],[5413.61,0.93],[5414.0,0.937],[5414.39,0.945],[5414.82,0.955],[5415.25,0.965],[5415.68,0.972],[5416.11,0.98],[5416.7,0.985],[5417.4,0.99],[5418.2,0.994],[5419,0.997]];
const pri_3_2: P = [[5402,0.999],[5405,0.999],[5406.5,0.998],[5407.8,0.995],[5408.9,0.99],[5409.9,0.981],[5410.7,0.969],[5411.4,0.955],[5412.0,0.943],[5412.5,0.935],[5413.0,0.932],[5413.5,0.934],[5414.0,0.943],[5414.6,0.956],[5415.2,0.97],[5415.8,0.981],[5416.5,0.99],[5417.3,0.995],[5418.2,0.998],[5419,0.999]];
const sec_3_2: P = [[5402,1.0],[5406,0.9995],[5408,0.998],[5409.5,0.9965],[5411,0.995],[5412.5,0.9935],[5414,0.993],[5415.5,0.9935],[5417,0.995],[5418.5,0.997],[5419,0.998]];
const ter_3_2: P = [[5402,1.0],[5406.5,1.0],[5407.5,0.999],[5408.5,0.998],[5409.5,0.998],[5410.5,0.999],[5411.5,1.0],[5419,1.0]];

const obs_3_3: P = [[5867,1.0],[5868,1.001],[5869,0.999],[5869.52,0.998],[5870.4,0.995],[5871.23,0.99],[5871.9,0.98],[5872.52,0.97],[5872.95,0.955],[5873.38,0.94],[5873.8,0.915],[5874.24,0.89],[5874.67,0.865],[5875.09,0.84],[5875.45,0.82],[5875.78,0.8],[5876.1,0.79],[5876.38,0.785],[5876.7,0.78],[5877.07,0.778],[5877.4,0.782],[5877.67,0.79],[5878.0,0.81],[5878.36,0.83],[5878.7,0.85],[5878.96,0.87],[5879.3,0.895],[5879.64,0.92],[5880.0,0.94],[5880.24,0.96],[5880.7,0.978],[5881.1,0.99],[5881.5,0.995],[5881.96,0.998],[5883,0.999],[5884,0.999]];
const fit_3_3: P = [[5867,1.0],[5870,1.0],[5871.0,0.997],[5871.8,0.99],[5872.5,0.978],[5873.0,0.965],[5873.4,0.948],[5873.8,0.925],[5874.2,0.9],[5874.6,0.875],[5875.0,0.85],[5875.4,0.828],[5875.8,0.808],[5876.2,0.793],[5876.6,0.783],[5877.07,0.779],[5877.5,0.785],[5877.9,0.8],[5878.3,0.825],[5878.7,0.85],[5879.1,0.878],[5879.5,0.905],[5879.9,0.93],[5880.3,0.952],[5880.8,0.972],[5881.3,0.986],[5881.9,0.995],[5882.7,0.999],[5884,1.0]];
const pri_3_3: P = [[5867,1.0],[5871.5,1.0],[5872.2,0.997],[5872.8,0.988],[5873.4,0.97],[5874.0,0.94],[5874.6,0.905],[5875.2,0.87],[5875.8,0.838],[5876.4,0.815],[5877.0,0.81],[5877.5,0.815],[5878.0,0.835],[5878.6,0.868],[5879.2,0.905],[5879.8,0.94],[5880.4,0.968],[5881.0,0.987],[5881.6,0.997],[5882.4,1.001],[5884,1.001]];
const sec_3_3: P = [[5867,1.0],[5870,1.0],[5871.2,0.997],[5872.4,0.99],[5873.8,0.982],[5875.2,0.977],[5876.6,0.975],[5878,0.975],[5879.4,0.979],[5880.8,0.987],[5882,0.995],[5883,0.999],[5884,1.0]];
const ter_3_3: P = [[5867,1.0],[5870.5,1.0],[5871.3,0.997],[5872.1,0.992],[5873.0,0.989],[5873.9,0.989],[5874.7,0.993],[5875.5,0.998],[5876.2,1.0],[5884,1.0]];

const obs_3_4: P = [[6668,1.0],[6668.5,0.998],[6669,1.002],[6669.6,0.999],[6670.2,1.003],[6671.08,1.001],[6671.8,0.999],[6672.5,0.997],[6673.2,0.995],[6673.8,0.99],[6674.26,0.985],[6674.79,0.98],[6675.3,0.977],[6675.85,0.975],[6676.4,0.968],[6676.91,0.96],[6677.44,0.95],[6677.97,0.94],[6678.3,0.93],[6678.71,0.92],[6679.0,0.91],[6679.35,0.9],[6679.7,0.89],[6680.09,0.88],[6680.62,0.87],[6681.15,0.865],[6681.5,0.868],[6681.89,0.88],[6682.3,0.895],[6682.74,0.91],[6683.1,0.925],[6683.48,0.94],[6683.9,0.955],[6684.33,0.965],[6684.9,0.978],[6685.39,0.985],[6685.92,0.99],[6686.45,0.995],[6687.2,0.998],[6688,0.999],[6689,1.0]];
const fit_3_4: P = [[6668,1.0],[6670,1.0],[6671.5,0.999],[6672.5,0.996],[6673.2,0.993],[6674.0,0.988],[6674.79,0.983],[6675.5,0.978],[6676.2,0.972],[6676.91,0.963],[6677.44,0.953],[6677.97,0.94],[6678.4,0.927],[6678.71,0.915],[6679.1,0.9],[6679.5,0.888],[6680.0,0.877],[6680.62,0.869],[6681.15,0.867],[6681.6,0.872],[6682.0,0.885],[6682.4,0.9],[6682.74,0.915],[6683.1,0.93],[6683.48,0.945],[6683.9,0.958],[6684.33,0.968],[6684.9,0.98],[6685.39,0.988],[6686.0,0.994],[6686.8,0.998],[6689,1.0]];
const pri_3_4: P = [[6668,1.0],[6676,1.0],[6676.8,0.997],[6677.5,0.988],[6678.2,0.973],[6678.8,0.955],[6679.4,0.935],[6680.0,0.913],[6680.6,0.895],[6681.1,0.886],[6681.6,0.885],[6682.1,0.89],[6682.6,0.903],[6683.1,0.92],[6683.7,0.94],[6684.3,0.958],[6685.0,0.975],[6685.7,0.988],[6686.5,0.996],[6687.5,0.999],[6689,1.0]];
const sec_3_4: P = [[6668,1.0],[6673.5,1.0],[6674.8,0.996],[6676.2,0.99],[6677.6,0.985],[6679,0.982],[6680.4,0.9815],[6681.8,0.982],[6683.2,0.985],[6684.6,0.99],[6686,0.995],[6687.4,0.999],[6689,1.0]];
const ter_3_4: P = [[6668,1.0],[6672,1.0],[6673,0.998],[6674,0.993],[6675,0.9905],[6676,0.9905],[6677,0.993],[6677.8,0.998],[6678.5,1.0],[6689,1.0]];

// ---------- phase 0.84 ----------
const obs_4_0: P = [[4679,0.9892],[4679.28,0.9933],[4679.61,0.9953],[4680.05,0.9963],[4680.38,0.9974],[4680.71,0.9994],[4681.04,0.9974],[4681.36,0.9994],[4681.8,0.9974],[4682.13,0.9943],[4682.46,0.9953],[4682.9,0.9913],[4683.22,0.9892],[4683.55,0.9872],[4683.88,0.9842],[4684.21,0.9821],[4684.54,0.9791],[4684.87,0.975],[4685.19,0.9669],[4685.41,0.9588],[4685.63,0.9497],[4685.85,0.9415],[4686.07,0.9344],[4686.29,0.9263],[4686.51,0.9202],[4686.73,0.9141],[4686.95,0.908],[4687.17,0.906],[4687.38,0.8999],[4687.6,0.904],[4687.82,0.909],[4688.04,0.9151],[4688.26,0.9223],[4688.48,0.9324],[4688.7,0.9415],[4688.92,0.9517],[4689.14,0.9598],[4689.35,0.9689],[4689.57,0.9791],[4689.79,0.9872],[4690.12,0.9943],[4690.45,0.9984],[4690.78,0.9994],[4691.21,0.9984],[4691.65,1.0004],[4692,0.9994]];
const fit_4_0: P = [[4679,0.9953],[4679.28,0.997],[4680.05,0.9994],[4680.82,1.0],[4681.58,0.9994],[4682.35,0.9963],[4683.12,0.9913],[4683.82,0.9862],[4684.43,0.9801],[4684.76,0.9718],[4684.98,0.9649],[4685.26,0.9578],[4685.48,0.9497],[4685.7,0.9415],[4685.85,0.9334],[4686.07,0.9263],[4686.29,0.9182],[4686.51,0.9101],[4686.95,0.904],[4687.6,0.906],[4687.93,0.9131],[4688.15,0.9202],[4688.37,0.9283],[4688.59,0.9365],[4688.81,0.9446],[4689.07,0.9547],[4689.24,0.9608],[4689.46,0.9689],[4689.68,0.976],[4689.9,0.9832],[4690.23,0.9923],[4690.56,0.9974],[4691.21,1.0],[4692,1.0]];
const pri_4_0: P = [[4679,1.0014],[4679.61,1.0035],[4680.27,1.0051],[4681.36,1.0055],[4682.24,1.0051],[4683.12,1.0035],[4683.77,1.0],[4684.21,0.9953],[4684.65,0.9862],[4684.98,0.976],[4685.3,0.9649],[4685.63,0.9527],[4685.96,0.9405],[4686.29,0.9294],[4686.62,0.9202],[4687.06,0.9162],[4687.6,0.9192],[4687.93,0.9263],[4688.26,0.9365],[4688.59,0.9486],[4688.92,0.9608],[4689.24,0.973],[4689.57,0.9842],[4689.9,0.9933],[4690.34,0.999],[4691.0,1.0],[4692,1.0]];
const sec_4_0: P = [[4679,1.0004],[4681.36,1.0],[4682.24,0.9984],[4683.12,0.9943],[4683.99,0.9903],[4684.87,0.9872],[4685.96,0.9862],[4687.06,0.9868],[4687.93,0.9888],[4688.81,0.9923],[4689.68,0.9963],[4690.56,0.9994],[4692,1.0]];
const ter_4_0: P = [[4679,1.0],[4679.83,0.9984],[4680.71,0.997],[4681.58,0.9957],[4682.46,0.9949],[4683.33,0.9957],[4684.21,0.997],[4684.87,0.999],[4685.52,1.0],[4692,1.0]];

const obs_4_1: P = [[4916,1.0],[4916.5,0.999],[4917.0,0.999],[4917.32,0.998],[4918.0,0.995],[4918.68,0.993],[4919.2,0.99],[4919.7,0.988],[4920.38,0.985],[4921.06,0.97],[4921.75,0.955],[4922.43,0.93],[4923.11,0.91],[4923.79,0.897],[4924.2,0.894],[4924.47,0.894],[4925.02,0.905],[4925.5,0.93],[4926.05,0.955],[4926.6,0.975],[4927.2,0.99],[4928.23,0.997],[4929,0.999],[4929.5,1.0]];
const fit_4_1: P = [[4916,1.0],[4917.32,0.998],[4918.68,0.994],[4920.04,0.99],[4920.72,0.98],[4921.4,0.965],[4922.09,0.945],[4922.63,0.925],[4923.18,0.91],[4923.79,0.9],[4924.27,0.898],[4924.81,0.905],[4925.36,0.925],[4925.84,0.945],[4926.39,0.965],[4927.0,0.98],[4927.89,0.993],[4928.8,0.998],[4929.5,1.0]];
const pri_4_1: P = [[4916,1.002],[4919.4,1.002],[4920.04,0.998],[4920.72,0.99],[4921.4,0.975],[4922.09,0.955],[4922.77,0.935],[4923.45,0.92],[4924.0,0.915],[4924.68,0.92],[4925.36,0.94],[4926.05,0.965],[4926.74,0.985],[4927.54,0.998],[4928.5,1.001],[4929.5,1.001]];
const sec_4_1: P = [[4916,1.0],[4918,0.9995],[4919,0.998],[4920,0.994],[4921,0.99],[4922,0.986],[4923,0.984],[4924,0.9835],[4925,0.985],[4926,0.989],[4927,0.994],[4928,0.998],[4929.5,1.0]];
const ter_4_1: P = [[4916,1.0],[4917,0.998],[4917.8,0.994],[4918.7,0.9915],[4919.5,0.992],[4920.2,0.995],[4920.9,0.9985],[4921.6,1.0],[4929.5,1.0]];

const obs_4_2: P = [[5402,1.0],[5402.5,0.999],[5403,1.001],[5403.6,1.0],[5404.2,1.003],[5404.8,1.002],[5405.4,1.003],[5406.0,1.0],[5406.6,0.999],[5407.2,0.998],[5407.95,0.997],[5408.6,0.993],[5409.24,0.99],[5409.8,0.985],[5410.1,0.98],[5410.5,0.973],[5410.95,0.965],[5411.4,0.957],[5411.81,0.95],[5412.24,0.942],[5412.67,0.935],[5413.0,0.925],[5413.27,0.918],[5413.53,0.91],[5413.8,0.915],[5414.1,0.925],[5414.4,0.932],[5414.82,0.94],[5415.25,0.952],[5415.68,0.96],[5416.11,0.968],[5416.54,0.975],[5417.0,0.98],[5417.4,0.985],[5417.83,0.988],[5418.26,0.992],[5418.6,0.994],[5419,0.997]];
const fit_4_2: P = [[5402,1.0],[5404,0.9995],[5406.23,0.999],[5407.95,0.996],[5409.24,0.99],[5410.0,0.983],[5410.8,0.973],[5411.38,0.965],[5411.9,0.955],[5412.24,0.945],[5412.6,0.937],[5412.93,0.93],[5413.4,0.924],[5413.79,0.922],[5414.2,0.925],[5414.6,0.93],[5415.0,0.94],[5415.25,0.95],[5415.7,0.96],[5416.11,0.97],[5416.7,0.978],[5417.4,0.985],[5418.2,0.991],[5419,0.995]];
const pri_4_2: P = [[5402,0.999],[5405,0.9995],[5406.8,0.998],[5408.2,0.995],[5409.4,0.989],[5410.4,0.979],[5411.2,0.966],[5411.9,0.952],[5412.5,0.94],[5413.1,0.934],[5413.7,0.932],[5414.3,0.935],[5414.9,0.945],[5415.5,0.958],[5416.1,0.971],[5416.8,0.982],[5417.5,0.99],[5418.2,0.995],[5419,0.998]];
const sec_4_2: P = [[5402,1.0],[5406,1.0],[5408,0.998],[5409.5,0.997],[5411,0.9955],[5412.5,0.994],[5414,0.993],[5415.5,0.9935],[5417,0.995],[5418.5,0.997],[5419,0.998]];
const ter_4_2: P = [[5402,1.0],[5405,1.0],[5406.2,0.9993],[5407.5,0.998],[5408.8,0.998],[5409.8,0.9993],[5410.8,1.0],[5419,1.0]];

const obs_4_3: P = [[5867,1.0],[5867.6,0.998],[5868.2,0.996],[5868.66,0.995],[5869.3,0.994],[5869.8,0.99],[5870.37,0.99],[5871.0,0.988],[5871.66,0.985],[5872.1,0.98],[5872.52,0.975],[5872.95,0.968],[5873.38,0.96],[5873.81,0.945],[5874.24,0.93],[5874.67,0.905],[5875.09,0.88],[5875.5,0.855],[5875.95,0.83],[5876.3,0.81],[5876.64,0.79],[5877.0,0.775],[5877.24,0.77],[5877.5,0.772],[5877.84,0.78],[5878.2,0.8],[5878.53,0.82],[5878.9,0.845],[5879.21,0.87],[5879.5,0.895],[5879.82,0.92],[5880.2,0.94],[5880.5,0.96],[5880.8,0.975],[5881.1,0.985],[5881.4,0.995],[5881.7,1.0],[5882.0,0.992],[5882.39,0.985],[5882.7,0.995],[5883.08,1.0],[5883.5,0.997],[5883.94,0.995]];
const fit_4_3: P = [[5867,1.0],[5868.5,0.998],[5870.0,0.994],[5871.0,0.99],[5871.8,0.985],[5872.5,0.975],[5873.0,0.965],[5873.5,0.948],[5874.0,0.925],[5874.5,0.898],[5875.0,0.87],[5875.5,0.84],[5876.0,0.812],[5876.5,0.792],[5877.0,0.78],[5877.4,0.777],[5877.8,0.783],[5878.2,0.8],[5878.6,0.825],[5879.0,0.855],[5879.4,0.885],[5879.8,0.915],[5880.2,0.945],[5880.6,0.968],[5881.0,0.985],[5881.5,0.995],[5882.2,0.999],[5883,1.0],[5884,1.0]];
const pri_4_3: P = [[5867,1.0],[5872,1.0],[5872.7,0.997],[5873.3,0.988],[5873.9,0.968],[5874.5,0.94],[5875.1,0.905],[5875.7,0.868],[5876.3,0.835],[5876.9,0.814],[5877.4,0.81],[5877.9,0.818],[5878.4,0.842],[5879.0,0.878],[5879.6,0.918],[5880.2,0.953],[5880.8,0.978],[5881.4,0.993],[5882.0,0.999],[5882.8,1.0],[5884,1.0]];
const sec_4_3: P = [[5867,1.0],[5870,1.0],[5871.3,0.997],[5872.6,0.99],[5874,0.982],[5875.4,0.977],[5876.8,0.975],[5878.2,0.975],[5879.6,0.979],[5881,0.987],[5882.2,0.995],[5883.2,0.999],[5884,1.0]];
const ter_4_3: P = [[5867,1.0],[5869.5,1.0],[5870.3,0.997],[5871.2,0.992],[5872.2,0.989],[5873.2,0.989],[5874.1,0.992],[5874.9,0.997],[5875.7,1.0],[5884,1.0]];

const obs_4_4: P = [[6668,0.995],[6668.5,0.993],[6669,0.995],[6669.6,0.992],[6670.2,0.994],[6671,0.993],[6671.6,0.993],[6672.3,0.991],[6673,0.99],[6673.6,0.987],[6674.3,0.983],[6674.8,0.98],[6675.3,0.975],[6675.85,0.97],[6676.4,0.963],[6676.9,0.955],[6677.4,0.945],[6677.97,0.93],[6678.4,0.912],[6678.7,0.9],[6679.1,0.885],[6679.4,0.875],[6680.1,0.865],[6680.6,0.863],[6681.0,0.866],[6681.4,0.875],[6681.7,0.89],[6682.2,0.91],[6682.6,0.93],[6683.0,0.945],[6683.8,0.96],[6684.3,0.968],[6684.9,0.975],[6685.4,0.98],[6685.9,0.985],[6686.5,0.988],[6687.0,0.99],[6687.5,0.992],[6688.0,0.985],[6688.5,0.988],[6689,0.99]];
const fit_4_4: P = [[6668,1.0],[6670,0.999],[6672.2,0.995],[6673.2,0.99],[6674.26,0.985],[6675.3,0.978],[6676.2,0.97],[6676.9,0.96],[6677.5,0.945],[6678.0,0.928],[6678.5,0.91],[6679.0,0.89],[6679.6,0.877],[6680.0,0.872],[6680.6,0.869],[6681.15,0.872],[6681.6,0.88],[6682.0,0.895],[6682.4,0.913],[6682.7,0.93],[6683.1,0.947],[6683.5,0.958],[6683.9,0.968],[6684.9,0.982],[6685.9,0.99],[6686.8,0.997],[6687.6,0.999],[6689,1.0]];
const pri_4_4: P = [[6668,1.0],[6675.8,1.0],[6676.4,0.997],[6677.1,0.988],[6677.8,0.972],[6678.4,0.953],[6679.0,0.93],[6679.6,0.908],[6680.2,0.892],[6680.8,0.885],[6681.3,0.886],[6681.8,0.895],[6682.4,0.912],[6683.0,0.933],[6683.6,0.953],[6684.3,0.971],[6685.0,0.985],[6685.8,0.994],[6686.6,0.998],[6687.5,1.0],[6689,1.0]];
const sec_4_4: P = [[6668,1.0],[6673.5,1.0],[6674.8,0.996],[6676.2,0.99],[6677.6,0.985],[6679,0.982],[6680.4,0.9815],[6681.8,0.982],[6683.2,0.985],[6684.6,0.99],[6686,0.995],[6687.4,0.999],[6689,1.0]];
const ter_4_4: P = [[6668,1.0],[6671.5,1.0],[6672.4,0.997],[6673.3,0.992],[6674.3,0.9895],[6675.3,0.99],[6676.2,0.994],[6677.0,0.998],[6677.8,1.0],[6689,1.0]];

const PANELS = [
  [obs_0_0, fit_0_0, pri_0_0, sec_0_0, ter_0_0], [obs_0_1, fit_0_1, pri_0_1, sec_0_1, ter_0_1], [obs_0_2, fit_0_2, pri_0_2, sec_0_2, ter_0_2], [obs_0_3, fit_0_3, pri_0_3, sec_0_3, ter_0_3], [obs_0_4, fit_0_4, pri_0_4, sec_0_4, ter_0_4],
  [obs_1_0, fit_1_0, pri_1_0, sec_1_0, ter_1_0], [obs_1_1, fit_1_1, pri_1_1, sec_1_1, ter_1_1], [obs_1_2, fit_1_2, pri_1_2, sec_1_2, ter_1_2], [obs_1_3, fit_1_3, pri_1_3, sec_1_3, ter_1_3], [obs_1_4, fit_1_4, pri_1_4, sec_1_4, ter_1_4],
  [obs_2_0, fit_2_0, pri_2_0, sec_2_0, ter_2_0], [obs_2_1, fit_2_1, pri_2_1, sec_2_1, ter_2_1], [obs_2_2, fit_2_2, pri_2_2, sec_2_2, ter_2_2], [obs_2_3, fit_2_3, pri_2_3, sec_2_3, ter_2_3], [obs_2_4, fit_2_4, pri_2_4, sec_2_4, ter_2_4],
  [obs_3_0, fit_3_0, pri_3_0, sec_3_0, ter_3_0], [obs_3_1, fit_3_1, pri_3_1, sec_3_1, ter_3_1], [obs_3_2, fit_3_2, pri_3_2, sec_3_2, ter_3_2], [obs_3_3, fit_3_3, pri_3_3, sec_3_3, ter_3_3], [obs_3_4, fit_3_4, pri_3_4, sec_3_4, ter_3_4],
  [obs_4_0, fit_4_0, pri_4_0, sec_4_0, ter_4_0], [obs_4_1, fit_4_1, pri_4_1, sec_4_1, ter_4_1], [obs_4_2, fit_4_2, pri_4_2, sec_4_2, ter_4_2], [obs_4_3, fit_4_3, pri_4_3, sec_4_3, ter_4_3], [obs_4_4, fit_4_4, pri_4_4, sec_4_4, ter_4_4],
];

const SANS = '"Liberation Sans", Arial, Helvetica, sans-serif';
const SERIF = '"Liberation Serif", "DejaVu Serif", "Times New Roman", serif';

function buildOption() {
  const grid: any[] = [];
  const xAxis: any[] = [];
  const yAxis: any[] = [];
  const series: any[] = [];
  const tick = (vals: number[]) => ({ show: true, inside: true, length: 6, lineStyle: { color: '#7a7a7a', width: 1 }, customValues: vals });

  PANELS.forEach((pd, k) => {
    const r = Math.floor(k / 5);
    const c = k % 5;
    const [x0, x1] = X_RANGES[c];
    const [y0, y1] = Y_RANGES[c];
    grid.push({ left: 151 + 250 * c, top: 34 + 250 * r, width: 198, height: 198, show: true, borderColor: '#000', borderWidth: 2, backgroundColor: 'transparent', containLabel: false });
    xAxis.push({
      type: 'value', gridIndex: k, min: x0, max: x1, position: 'bottom',
      axisLine: { show: false }, splitLine: { show: false }, axisTick: tick(X_TICKS[c]),
      axisLabel: { customValues: X_LABELS[c], formatter: (v: number) => String(v), margin: 6, fontSize: 14, color: '#000', fontFamily: SANS },
      name: r === 0 ? 'λ / Å' : '', nameLocation: 'middle', nameGap: 24,
      nameTextStyle: { fontSize: 14, color: '#000', fontFamily: SANS },
    });
    xAxis.push({
      type: 'value', gridIndex: k, min: x0, max: x1, position: 'top',
      axisLine: { show: false }, splitLine: { show: false }, axisLabel: { show: false }, axisTick: tick(X_TICKS[c]),
    });
    yAxis.push({
      type: 'value', gridIndex: k, min: y0, max: y1, position: 'left',
      axisLine: { show: false }, splitLine: { show: false }, axisTick: tick(Y_TICKS[c]),
      axisLabel: { customValues: Y_LABELS[c], formatter: (v: number) => v.toFixed(Y_DIGITS[c]), margin: 9, fontSize: 14, color: '#000', fontFamily: SANS },
    });
    yAxis.push({
      type: 'value', gridIndex: k, min: y0, max: y1, position: 'right',
      axisLine: { show: false }, splitLine: { show: false }, axisLabel: { show: false }, axisTick: tick(Y_TICKS[c]),
    });
    const base = { type: 'line', xAxisIndex: 2 * k, yAxisIndex: 2 * k, symbol: 'none', silent: true, animation: false };
    series.push({ ...base, data: [[x0, 1], [x1, 1]], lineStyle: { color: '#8c8c8c', width: 1 } });
    REST[c].forEach((l) => series.push({ ...base, data: [[l, y0], [l, y1]], lineStyle: { color: '#8c8c8c', width: 1 } }));
    const [obs, fit, pri, sec, ter] = pd;
    series.push({ ...base, data: sec, smooth: 0.3, lineStyle: { color: '#c23bd6', width: 2.4, type: [9, 4, 2, 4] } });
    series.push({ ...base, data: ter, smooth: 0.3, lineStyle: { color: '#555555', width: 2.6 } });
    series.push({ ...base, data: obs, lineStyle: { color: '#0000ff', width: 1.1 } });
    series.push({ ...base, data: pri, smooth: 0.3, lineStyle: { color: '#006400', width: 3, type: [14, 8] } });
    series.push({ ...base, data: fit, smooth: 0.3, lineStyle: { color: '#ff0000', width: 6.5, type: [1.5, 11.5], cap: 'round' } });
  });

  const graphic: any[] = [];
  TITLES.forEach((t, c) => {
    graphic.push({ type: 'text', x: 151 + 250 * c + 99, y: 16, style: { text: t, fill: '#000', font: '23px ' + SANS, textAlign: 'center', textVerticalAlign: 'middle', align: 'center', verticalAlign: 'middle' } });
  });
  PHASES.forEach((ph, r) => {
    graphic.push({
      type: 'text', x: 8, y: 34 + 250 * r + 108,
      style: {
        text: '{i|ϕ} = ' + ph, fill: '#000', font: '26px ' + SERIF,
        rich: { i: { fontStyle: 'italic', fontSize: 26, fontFamily: SERIF, fill: '#000' } },
        textAlign: 'left', textVerticalAlign: 'middle', align: 'left', verticalAlign: 'middle',
      },
    });
  });

  return { animation: false, backgroundColor: '#fff', grid, xAxis, yAxis, series, graphic };
}

export default function App() {
  const ref = useRef<HTMLDivElement>(null);
  useEffect(() => {
    if (!ref.current) return;
    const chart = echarts.init(ref.current, undefined, { renderer: 'svg' });
    chart.setOption(buildOption() as any);
    return () => chart.dispose();
  }, []);
  return <div ref={ref} style={{ position: 'absolute', left: 0, top: 0, width: 1369, height: 1258 }} />;
}
